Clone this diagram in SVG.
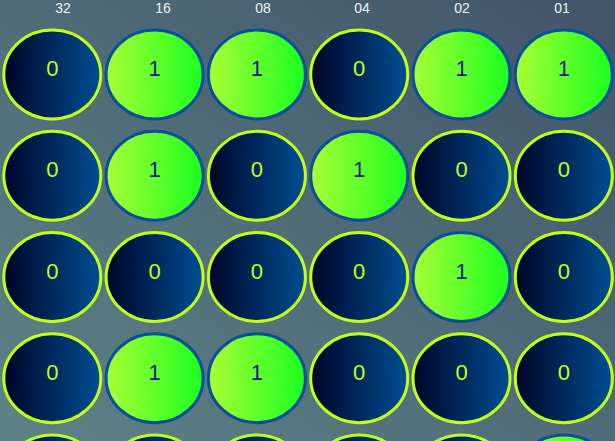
<svg xmlns="http://www.w3.org/2000/svg" width="615" height="441" viewBox="0 0 615 441">
<defs>
<linearGradient id="bg" x1="0" y1="1" x2="1" y2="0">
<stop offset="0" stop-color="#5d8386"/>
<stop offset="1" stop-color="#425468"/>
</linearGradient>
<linearGradient id="gOff" x1="0" y1="0" x2="1" y2="0">
<stop offset="0" stop-color="#000428"/>
<stop offset="1" stop-color="#004e92"/>
</linearGradient>
<linearGradient id="gOn" x1="0" y1="0" x2="1" y2="0">
<stop offset="0" stop-color="#a8ff35"/>
<stop offset="1" stop-color="#1aff20"/>
</linearGradient>
</defs>
<style>
.hdr{font-family:"Liberation Sans",Arial,sans-serif;font-size:14px;fill:#eef2f2;text-anchor:middle}
.off ellipse{fill:url(#gOff);stroke:#c0ff1c;stroke-width:3}
.on ellipse{fill:url(#gOn);stroke:#0b4f9a;stroke-width:3}
.node text{font-family:"Liberation Sans",Arial,sans-serif;font-size:22px;text-anchor:middle}
.off text{fill:#c0ff1c}
.on text{fill:#1a1a8c}
</style>
<rect width="615" height="441" fill="url(#bg)"/>
<g id="headers">
<text class="hdr" x="63" y="13">32</text>
<text class="hdr" x="163" y="13">16</text>
<text class="hdr" x="263" y="13">08</text>
<text class="hdr" x="362" y="13">04</text>
<text class="hdr" x="462" y="13">02</text>
<text class="hdr" x="562" y="13">01</text>
</g>
<g id="connectors"/>
<g id="r1c1" class="node off"><ellipse cx="52.3" cy="74.5" rx="48.5" ry="44.5"/><text x="52.3" y="76">0</text></g>
<g id="r1c2" class="node on"><ellipse cx="154.6" cy="74.5" rx="48.5" ry="44.5"/><text x="154.6" y="76">1</text></g>
<g id="r1c3" class="node on"><ellipse cx="256.9" cy="74.5" rx="48.5" ry="44.5"/><text x="256.9" y="76">1</text></g>
<g id="r1c4" class="node off"><ellipse cx="359.2" cy="74.5" rx="48.5" ry="44.5"/><text x="359.2" y="76">0</text></g>
<g id="r1c5" class="node on"><ellipse cx="461.5" cy="74.5" rx="48.5" ry="44.5"/><text x="461.5" y="76">1</text></g>
<g id="r1c6" class="node on"><ellipse cx="563.8" cy="74.5" rx="48.5" ry="44.5"/><text x="563.8" y="76">1</text></g>

<g id="r2c1" class="node off"><ellipse cx="52.3" cy="175.75" rx="48.5" ry="44.5"/><text x="52.3" y="177.25">0</text></g>
<g id="r2c2" class="node on"><ellipse cx="154.6" cy="175.75" rx="48.5" ry="44.5"/><text x="154.6" y="177.25">1</text></g>
<g id="r2c3" class="node off"><ellipse cx="256.9" cy="175.75" rx="48.5" ry="44.5"/><text x="256.9" y="177.25">0</text></g>
<g id="r2c4" class="node on"><ellipse cx="359.2" cy="175.75" rx="48.5" ry="44.5"/><text x="359.2" y="177.25">1</text></g>
<g id="r2c5" class="node off"><ellipse cx="461.5" cy="175.75" rx="48.5" ry="44.5"/><text x="461.5" y="177.25">0</text></g>
<g id="r2c6" class="node off"><ellipse cx="563.8" cy="175.75" rx="48.5" ry="44.5"/><text x="563.8" y="177.25">0</text></g>

<g id="r3c1" class="node off"><ellipse cx="52.3" cy="277" rx="48.5" ry="44.5"/><text x="52.3" y="278.5">0</text></g>
<g id="r3c2" class="node off"><ellipse cx="154.6" cy="277" rx="48.5" ry="44.5"/><text x="154.6" y="278.5">0</text></g>
<g id="r3c3" class="node off"><ellipse cx="256.9" cy="277" rx="48.5" ry="44.5"/><text x="256.9" y="278.5">0</text></g>
<g id="r3c4" class="node off"><ellipse cx="359.2" cy="277" rx="48.5" ry="44.5"/><text x="359.2" y="278.5">0</text></g>
<g id="r3c5" class="node on"><ellipse cx="461.5" cy="277" rx="48.5" ry="44.5"/><text x="461.5" y="278.5">1</text></g>
<g id="r3c6" class="node off"><ellipse cx="563.8" cy="277" rx="48.5" ry="44.5"/><text x="563.8" y="278.5">0</text></g>

<g id="r4c1" class="node off"><ellipse cx="52.3" cy="378.25" rx="48.5" ry="44.5"/><text x="52.3" y="379.75">0</text></g>
<g id="r4c2" class="node on"><ellipse cx="154.6" cy="378.25" rx="48.5" ry="44.5"/><text x="154.6" y="379.75">1</text></g>
<g id="r4c3" class="node on"><ellipse cx="256.9" cy="378.25" rx="48.5" ry="44.5"/><text x="256.9" y="379.75">1</text></g>
<g id="r4c4" class="node off"><ellipse cx="359.2" cy="378.25" rx="48.5" ry="44.5"/><text x="359.2" y="379.75">0</text></g>
<g id="r4c5" class="node off"><ellipse cx="461.5" cy="378.25" rx="48.5" ry="44.5"/><text x="461.5" y="379.75">0</text></g>
<g id="r4c6" class="node off"><ellipse cx="563.8" cy="378.25" rx="48.5" ry="44.5"/><text x="563.8" y="379.75">0</text></g>

<g id="r5c1" class="node off"><ellipse cx="52.3" cy="479.5" rx="48.5" ry="44.5"/></g>
<g id="r5c2" class="node off"><ellipse cx="154.6" cy="479.5" rx="48.5" ry="44.5"/></g>
<g id="r5c3" class="node off"><ellipse cx="256.9" cy="479.5" rx="48.5" ry="44.5"/></g>
<g id="r5c4" class="node off"><ellipse cx="359.2" cy="479.5" rx="48.5" ry="44.5"/></g>
<g id="r5c5" class="node off"><ellipse cx="461.5" cy="479.5" rx="48.5" ry="44.5"/></g>
<g id="r5c6" class="node on"><ellipse cx="563.8" cy="479.5" rx="48.5" ry="44.5"/></g>
</svg>
